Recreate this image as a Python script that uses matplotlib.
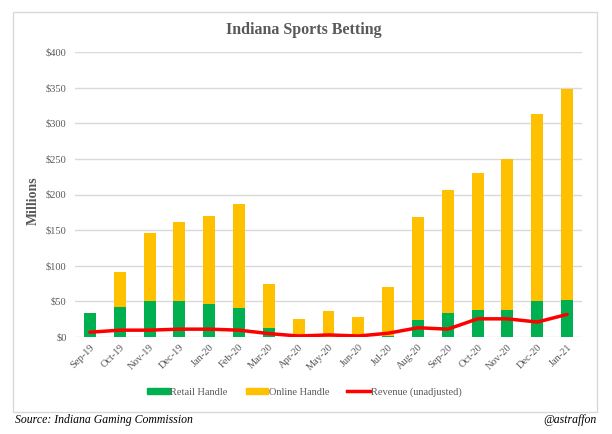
import matplotlib.pyplot as plt
from matplotlib.patches import Rectangle, Patch
from matplotlib.lines import Line2D
import numpy as np

months = ['Sep-19', 'Oct-19', 'Nov-19', 'Dec-19', 'Jan-20', 'Feb-20', 'Mar-20', 'Apr-20',
          'May-20', 'Jun-20', 'Jul-20', 'Aug-20', 'Sep-20', 'Oct-20', 'Nov-20', 'Dec-20', 'Jan-21']
retail = [34, 42, 50.5, 50.5, 47, 41, 13, 0, 0, 0, 2, 24, 34, 37.5, 37.5, 50.5, 52]
total = [34, 91, 146, 161, 170, 187, 74, 25.5, 36.5, 28.5, 70, 168.5, 206, 229.5, 250.5, 313, 348]
online = [t - r for t, r in zip(total, retail)]
revenue = [6.7, 9.6, 9.6, 11, 11, 9.6, 4.8, 1.4, 2.9, 1.4, 5.3, 13, 11, 25.5, 25.5, 21, 31.7]

green = '#00B050'
yellow = '#FFC000'
red = '#FF0000'
gray = '#595959'

plt.rcParams['font.family'] = ['Liberation Serif', 'DejaVu Serif']

fig = plt.figure(figsize=(6.12, 4.34), dpi=100)
ax = fig.add_axes([75 / 612, 1 - 337 / 434, 507 / 612, 285 / 434])

# chart frame
fig.patches.append(Rectangle((13 / 612, 1 - 412 / 434), 584 / 612, 400 / 434,
                             transform=fig.transFigure, fill=False,
                             edgecolor='#D9D9D9', linewidth=1, zorder=0))

x = np.arange(len(months))
ax.bar(x, retail, width=0.4, color=green, zorder=2)
ax.bar(x, online, width=0.4, bottom=retail, color=yellow, zorder=2)
ax.plot(x, revenue, color=red, linewidth=2.5, solid_joinstyle='round',
        solid_capstyle='round', zorder=3)

ax.set_xlim(-0.5, len(months) - 0.5)
ax.set_ylim(0, 400)
ax.set_yticks(range(0, 401, 50))
ax.set_yticklabels(['$' + str(v) for v in range(0, 401, 50)])
ax.set_xticks(x)
ax.set_xticklabels(months, rotation=45, ha='right', rotation_mode='anchor')
ax.tick_params(axis='both', length=0, labelsize=7.5, colors=gray, pad=6)
ax.tick_params(axis='x', pad=4)
ax.grid(axis='y', color='#D9D9D9', linewidth=1)
ax.set_axisbelow(True)
for s in ax.spines.values():
    s.set_visible(False)

ax.set_ylabel('Millions', fontsize=10, fontweight='bold', color=gray)
ax.yaxis.set_label_coords(-35 / 507, 0.48)

fig.text(0.497, 1 - 30 / 434, 'Indiana Sports Betting', ha='center', va='center',
         fontsize=11.5, fontweight='bold', color=gray)

handles = [Patch(color=green), Patch(color=yellow), Line2D([], [], color=red, linewidth=2.5)]
fig.legend(handles, ['Retail Handle', 'Online Handle', 'Revenue (unadjusted)'],
           loc='center', bbox_to_anchor=(0.497, 1 - 392 / 434), ncol=3, frameon=False,
           fontsize=7.5, labelcolor=gray, handlelength=2.2, handleheight=0.6,
           handletextpad=0.05, columnspacing=1.7)

fig.text(15 / 612, 1 - 420 / 434, 'Source: Indiana Gaming Commission', ha='left',
         va='center', fontsize=8.5, style='italic', color='black')
fig.text(597 / 612, 1 - 420 / 434, '@astraffon', ha='right', va='center',
         fontsize=8.5, style='italic', color='black')

fig.savefig('out.png', dpi=100)
